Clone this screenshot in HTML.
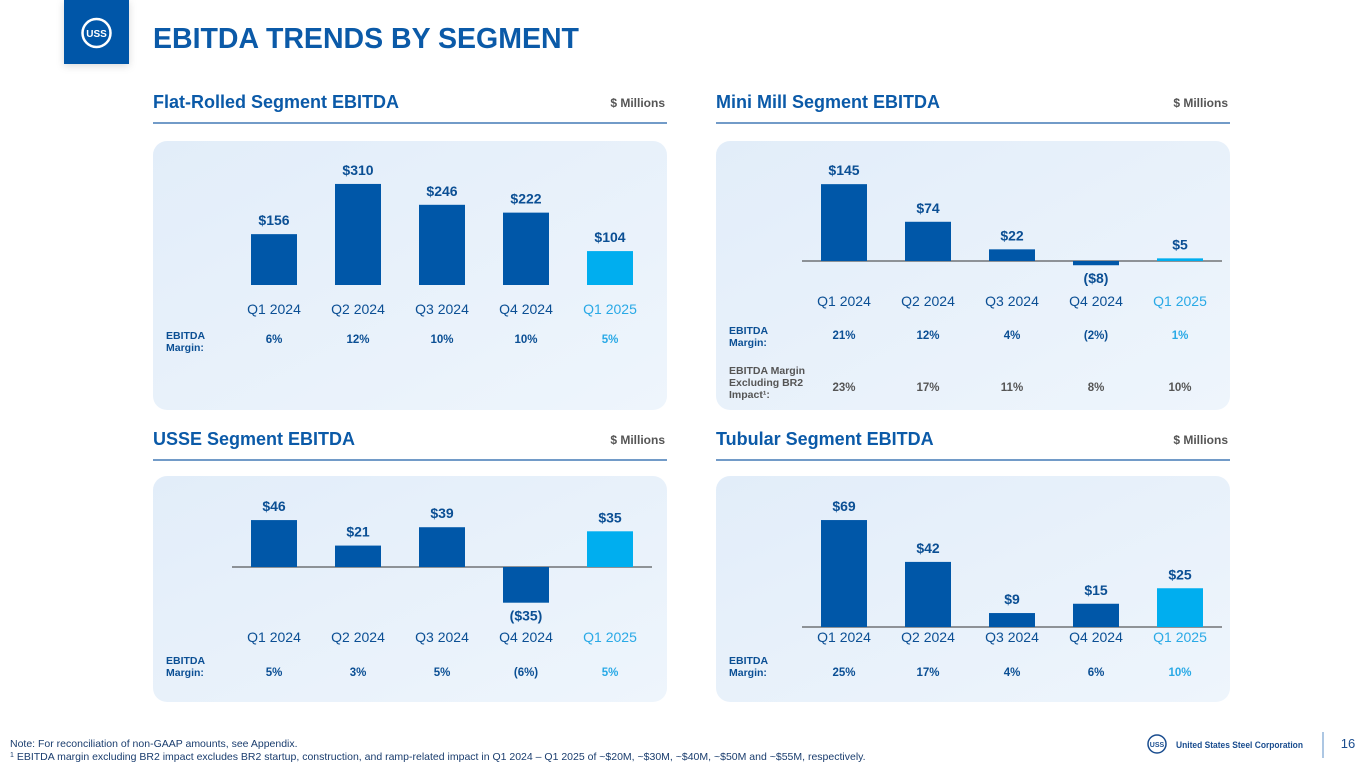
<!DOCTYPE html>
<html><head><meta charset="utf-8"><style>
body{margin:0;width:1365px;height:768px;overflow:hidden;background:#fff;font-family:"Liberation Sans",Arial,sans-serif;}
svg{position:absolute;left:0;top:0}
</style></head><body>
<svg id="s" width="1365" height="768">
<defs>
<linearGradient id="pg" x1="0" y1="0" x2="1" y2="1"><stop offset="0" stop-color="#e2edf9"/><stop offset="1" stop-color="#eef5fc"/></linearGradient>
<filter id="sh" x="-30%" y="-30%" width="160%" height="160%"><feDropShadow dx="0" dy="2" stdDeviation="4" flood-color="#000" flood-opacity="0.15"/></filter>
</defs>
<rect x="64" y="0" width="65" height="64" fill="#0057a8" filter="url(#sh)"/>
<circle cx="96.5" cy="33" r="14" fill="none" stroke="#fff" stroke-width="2.5"/>
<text x="96.5" y="37" text-anchor="middle" font-size="10" font-weight="bold" fill="#fff">USS</text>
<text x="153" y="48" font-size="28.5" font-weight="bold" fill="#0b5aa8">EBITDA TRENDS BY SEGMENT</text>
<g id="g"></g>
<text x="10" y="747" font-size="10.5" fill="#1a3d6e">Note: For reconciliation of non-GAAP amounts, see Appendix.</text>
<text x="10" y="760" font-size="10.5" fill="#1a3d6e"><tspan font-size="7" dy="-3">1</tspan><tspan dy="3"> EBITDA margin excluding BR2 impact excludes BR2 startup, construction, and ramp-related impact in Q1 2024 – Q1 2025 of ~$20M, ~$30M, ~$40M, ~$50M and ~$55M, respectively.</tspan></text>
<circle cx="1157" cy="744" r="9" fill="none" stroke="#1a4d8f" stroke-width="1.5"/>
<text x="1157" y="747" text-anchor="middle" font-size="7" font-weight="bold" fill="#1a4d8f">USS</text>
<text x="1176" y="748" font-size="9.5" font-weight="bold" fill="#1a4d8f" textLength="127" lengthAdjust="spacingAndGlyphs">United States Steel Corporation</text>
<line x1="1323" y1="732" x2="1323" y2="758" stroke="#5b8fc7" stroke-width="1"/>
<text x="1348" y="748" text-anchor="middle" font-size="13" fill="#1a4d8f">16</text>
</svg>
<script>
const quarters=["Q1 2024","Q2 2024","Q3 2024","Q4 2024","Q1 2025"];
const flatValues=[156,310,246,222,104];
const flatMargins=["6%","12%","10%","10%","5%"];
const miniValues=[145,74,22,-8,5];
const miniMargins=["21%","12%","4%","(2%)","1%"];
const miniMarginsExBR2=["23%","17%","11%","8%","10%"];
const usseValues=[46,21,39,-35,35];
const usseMargins=["5%","3%","5%","(6%)","5%"];
const tubularValues=[69,42,9,15,25];
const tubularMargins=["25%","17%","4%","6%","10%"];

const NS="http://www.w3.org/2000/svg";
const G=document.getElementById('g');
function el(tag,attrs,txt,parent){const e=document.createElementNS(NS,tag);for(const k in attrs)e.setAttribute(k,attrs[k]);if(txt!=null)e.textContent=txt;(parent||G).appendChild(e);return e;}
function fmt(v){return v<0?"($"+(-v)+")":"$"+v;}

function panel(cfg){
  const g=el('g',{});
  
  
  const t=el('text',{x:cfg.x,y:cfg.hy,'font-size':18,'font-weight':'bold',fill:'#0b5aa8'},cfg.title,g);
  
  
  const u=el('text',{x:cfg.x+cfg.w-2,y:cfg.hy-1,'font-size':12,'font-weight':'bold','text-anchor':'end',fill:'#555'},"$ Millions",g);
  
  
  el('line',{x1:cfg.x,x2:cfg.x+cfg.w,y1:cfg.hy+15,y2:cfg.hy+15,stroke:'#1f5fa8','stroke-width':1.2},null,g);
  const bg=el('rect',{x:cfg.x,y:cfg.py,width:cfg.w,height:cfg.ph,rx:14,fill:'url(#pg)'},null,g);
  
  
  const cx=i=>cfg.x+cfg.off+i*84;
  const yv=v=>cfg.base-v*cfg.scale;
  if(cfg.axis){el('line',{x1:cx(0)-42,x2:cx(4)+42,y1:cfg.base,y2:cfg.base,stroke:'#333','stroke-width':1},null,g);}
  cfg.values.forEach((v,i)=>{
    const last=i===cfg.values.length-1;
    const col=last?'#00aeef':'#0057a8';
    const y0=Math.min(yv(v),cfg.base), h=Math.abs(yv(v)-cfg.base);
    const r=el('rect',{x:cx(i)-23,y:y0,width:46,height:Math.max(h,1.5),fill:col},null,g);
    
    
    const ly=v<0?yv(v)+18:yv(v)-9;
    const l=el('text',{x:cx(i),y:ly,'font-size':14,'font-weight':'bold','text-anchor':'middle',fill:'#0b4f94'},fmt(v),g);
    
    
    const q=el('text',{x:cx(i),y:cfg.qy,'font-size':14,'text-anchor':'middle',fill:last?'#29a9e6':'#0b4f94'},quarters[i],g);
    
    
  });
  cfg.rows.forEach(row=>{
    row.label.forEach((s,j)=>{
      const lt=el('text',{x:cfg.x+13,y:row.ly+j*12,'font-size':10.5,'font-weight':'bold',fill:row.color},s,g);
      
      
    });
    row.vals.forEach((s,i)=>{
      const last=i===row.vals.length-1;
      const mt=el('text',{x:cx(i),y:row.y,'font-size':11.5,'font-weight':'bold','text-anchor':'middle',fill:row.color==='#555'?'#555':(last?'#29a9e6':'#0b4f94')},s,g);
      
      
    });
  });
}
const blue='#0b4f94';
panel({name:'flat-rolled-panel',title:'Flat-Rolled Segment EBITDA',x:153,w:514,off:121,hy:108,py:141,ph:269,base:285,scale:0.326,axis:false,qy:314,values:flatValues,
  rows:[{label:['EBITDA','Margin:'],ly:339,y:343,vals:flatMargins,color:blue}]});
panel({name:'mini-mill-panel',title:'Mini Mill Segment EBITDA',x:716,w:514,off:128,hy:108,py:141,ph:269,base:261,scale:0.53,axis:true,qy:306,values:miniValues,
  rows:[{label:['EBITDA','Margin:'],ly:334,y:339,vals:miniMargins,color:blue},
        {label:['EBITDA Margin','Excluding BR2','Impact¹:'],ly:374,y:391,vals:miniMarginsExBR2,color:'#555'}]});
panel({name:'usse-panel',title:'USSE Segment EBITDA',x:153,w:514,off:121,hy:445,py:476,ph:226,base:567,scale:1.02,axis:true,qy:642,values:usseValues,
  rows:[{label:['EBITDA','Margin:'],ly:664,y:676,vals:usseMargins,color:blue}]});
panel({name:'tubular-panel',title:'Tubular Segment EBITDA',x:716,w:514,off:128,hy:445,py:476,ph:226,base:627,scale:1.55,axis:true,qy:642,values:tubularValues,
  rows:[{label:['EBITDA','Margin:'],ly:664,y:676,vals:tubularMargins,color:blue}]});
</script>
</body></html>
